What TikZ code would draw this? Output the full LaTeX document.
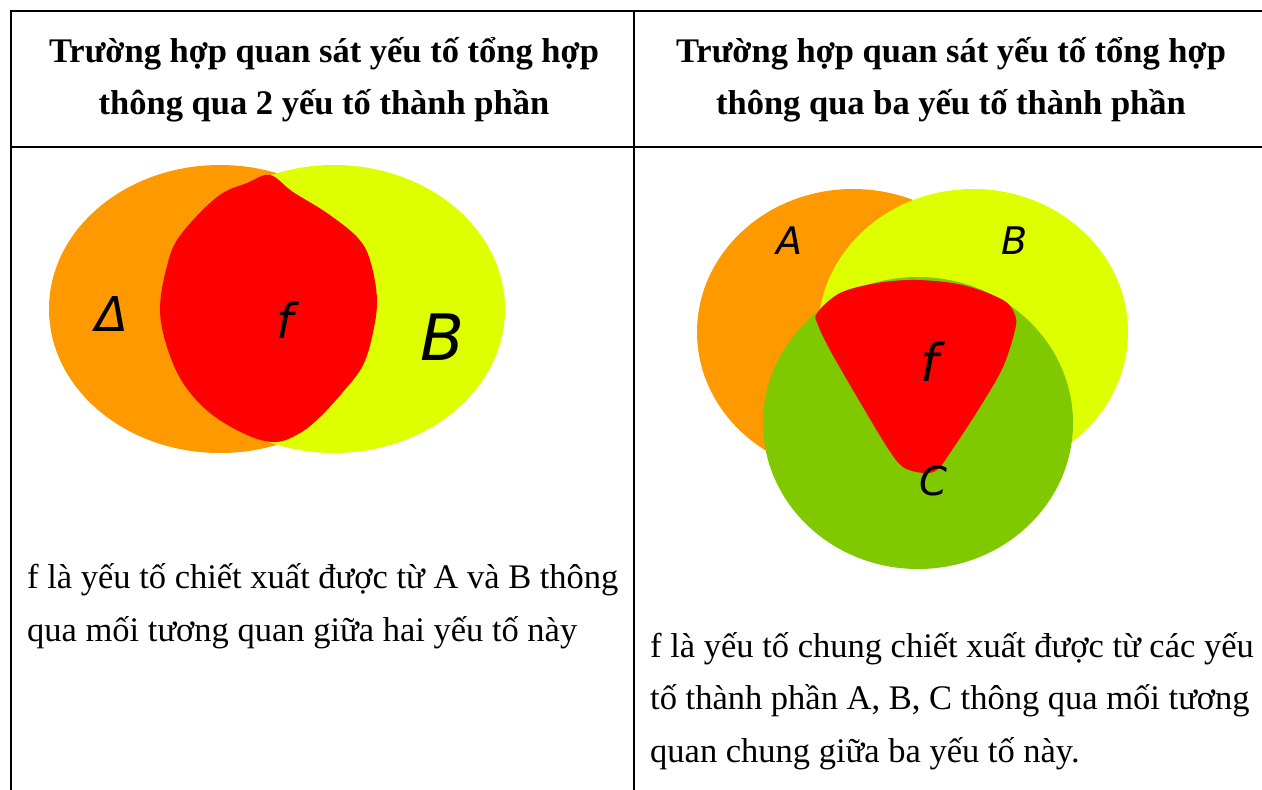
\documentclass[tikz,border=0pt]{standalone}
\usepackage{fontspec}
\setmainfont{Liberation Serif}
\newfontfamily\lblfont{DejaVu Sans}
\definecolor{cOrange}{RGB}{255,153,0}
\definecolor{cYellow}{RGB}{221,255,0}
\definecolor{cGreen}{RGB}{128,200,0}
\definecolor{cRed}{RGB}{255,0,0}
\tikzset{
  rule/.style={line width=2.3pt, line cap=rect},
  head/.style={inner sep=0pt, anchor=base, font=\fontsize{34.5}{42}\selectfont\bfseries},
  body/.style={inner sep=0pt, anchor=base west, font=\fontsize{34.5}{42}\selectfont},
  lbl/.style={inner sep=0pt, font=\lblfont\itshape},
}
\begin{document}
\begin{tikzpicture}[x=1pt,y=-1pt]
\useasboundingbox (0,0) rectangle (1262,790);
% table rules
\coordinate (tl) at (11,11);
\coordinate (tr) at (1264,11);
\coordinate (bl) at (11,792);
\coordinate (mt) at (634,11);
\coordinate (mb) at (634,792);
\coordinate (hl) at (11,147);
\coordinate (hr) at (1264,147);
\draw[rule] (tr) -- (tl) -- (bl);
\draw[rule] (mt) -- (mb);
\draw[rule] (hl) -- (hr);
% headers
\node[head] (h1a) at (324,62) {Trường hợp quan sát yếu tố tổng hợp};
\node[head] (h1b) at (324,114) {thông qua 2 yếu tố thành phần};
\node[head] (h2a) at (951,62) {Trường hợp quan sát yếu tố tổng hợp};
\node[head] (h2b) at (951,114) {thông qua ba yếu tố thành phần};
% left venn
\fill[cOrange] (220,309) ellipse [x radius=171pt, y radius=144pt];
\fill[cYellow] (334,309) ellipse [x radius=171pt, y radius=144pt];
\fill[cRed] plot[smooth cycle, tension=0.6] coordinates {
 (270,175) (293,192) (327,213) (357,237) (370,260) (377,300) (372,337)
 (362,367) (342,393) (320,417) (300,433) (276,442)
 (247,435) (210,413) (183,383) (167,347) (160,310) (166,270) (179,237)
 (217,197) (247,183)};
\node[lbl, font=\lblfont\itshape\fontsize{48}{48}\selectfont] (lA) at (112,314) {Δ};
\node[lbl, font=\lblfont\itshape\fontsize{48}{48}\selectfont] (lf) at (285,320) {f};
\node[lbl, font=\lblfont\itshape\fontsize{64}{64}\selectfont] (lB) at (442,337) {B};
% right venn
\fill[cOrange] (853,332) ellipse [x radius=156pt, y radius=143pt];
\fill[cYellow] (973,332) ellipse [x radius=155pt, y radius=143pt];
\fill[cGreen] (918,423) ellipse [x radius=155pt, y radius=146pt];
\fill[cRed] plot[smooth cycle, tension=0.55] coordinates {
 (817,313) (840,293) (877,283) (917,280) (963,285) (1003,300) (1015,315)
 (1015,330) (1003,367) (980,407) (950,453) (937,470) (923,473)
 (903,467) (887,447) (857,397) (830,350) (818,325)};
\node[lbl, font=\lblfont\itshape\fontsize{38}{38}\selectfont] (rA) at (789,241) {A};
\node[lbl, font=\lblfont\itshape\fontsize{38}{38}\selectfont] (rB) at (1015,241) {B};
\node[lbl, font=\lblfont\itshape\fontsize{52}{52}\selectfont] (rf) at (930,362) {f};
\node[lbl, font=\lblfont\itshape\fontsize{40}{40}\selectfont] (rC) at (933,481) {C};
% body texts
\node[body] (t1a) at (27,588) {f là yếu tố chiết xuất được từ A và B thông};
\node[body] (t1b) at (27,641) {qua mối tương quan giữa hai yếu tố này};
\node[body] (t2a) at (650,657) {f là yếu tố chung chiết xuất được từ các yếu};
\node[body] (t2b) at (650,709) {tố thành phần A, B, C thông qua mối tương};
\node[body] (t2c) at (650,762) {quan chung giữa ba yếu tố này.};
\end{tikzpicture}
\end{document}
